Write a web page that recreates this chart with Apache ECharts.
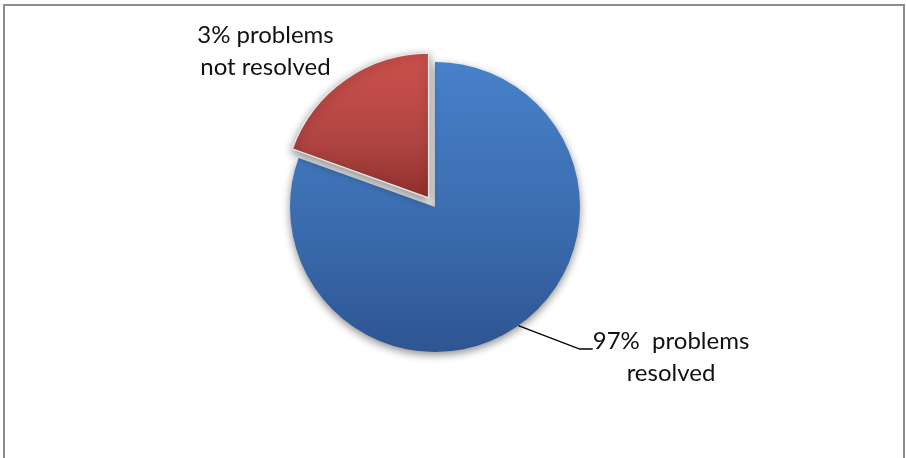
<!DOCTYPE html>
<html>
<head>
<meta charset="utf-8">
<script src="https://cdn.jsdelivr.net/npm/echarts@6/dist/echarts.min.js"></script>
<style>
html,body{margin:0;padding:0;background:#fff;}
#chart{width:906px;height:458px;}
</style>
</head>
<body>
<div id="chart"></div>
<script>
// Data (slice sizes as drawn; label texts as printed)
var categories = ['97%  problems\nresolved', '3% problems\nnot resolved'];
var sliceValues = [80.5, 19.5];
var sliceColors = [
  ['#4781c9', '#3a6aad', '#2d5591'],
  ['#cc514d', '#b04441', '#8f302d']
];

var FONT = 'Lato, "Open Sans", sans-serif';
var chart = echarts.init(document.getElementById('chart'));

function richLines(name) {
  return '{g|}\n' + name.split('\n').map(function (s) { return '{t|' + s + '}'; }).join('\n');
}

var data = categories.map(function (name, i) {
  var item = {
    name: name,
    value: sliceValues[i],
    selected: i === 1,
    itemStyle: {
      color: new echarts.graphic.LinearGradient(0, 0, 0, 1, [
        {offset: 0, color: sliceColors[i][0]},
        {offset: 0.6, color: sliceColors[i][1]},
        {offset: 1, color: sliceColors[i][2]}
      ]),
      borderColor: i === 1 ? '#e4e4e4' : 'rgba(0,0,0,0)',
      borderWidth: i === 1 ? 1.5 : 0
    }
  };
  if (i === 0) {
    item.label = {
      align: 'center',
      formatter: function (p) { return richLines(p.name); },
      rich: {
        g: {lineHeight: 16, fontSize: 1},
        t: {fontFamily: FONT, fontSize: 24, lineHeight: 32, color: '#111', align: 'center'}
      }
    };
    item.labelLine = {show: true};
  } else {
    item.label = {align: 'center'};
    item.labelLine = {show: false, length: 34.5, length2: 55};
  }
  return item;
});

chart.setOption({
  animation: false,
  backgroundColor: '#ffffff',
  graphic: [{
    type: 'rect',
    shape: {x: 4, y: 5, width: 900, height: 470},
    style: {fill: 'none', stroke: '#8c8c8c', lineWidth: 2},
    silent: true
  }],
  series: [{
    type: 'pie',
    center: [435, 207],
    radius: 145,
    startAngle: 90,
    clockwise: true,
    selectedMode: 'single',
    selectedOffset: 11,
    avoidLabelOverlap: false,
    itemStyle: {
      shadowBlur: 8,
      shadowColor: 'rgba(0,0,0,0.45)',
      shadowOffsetY: 3
    },
    label: {
      show: true,
      position: 'outside',
      alignTo: 'none',
      formatter: '{b}',
      fontFamily: FONT,
      fontSize: 24,
      lineHeight: 32,
      color: '#111',
      align: 'center'
    },
    labelLine: {
      show: true,
      length: 20,
      length2: 13,
      smooth: false,
      lineStyle: {color: '#000', width: 1.3}
    },
    labelLayout: function (params) {
      if (params.dataIndex === 0) {
        return {x: 671, y: 349, align: 'center', verticalAlign: 'middle'};
      }
      return {align: 'center', verticalAlign: 'middle'};
    },
    emphasis: {disabled: true},
    data: data
  }]
});
</script>
</body>
</html>
